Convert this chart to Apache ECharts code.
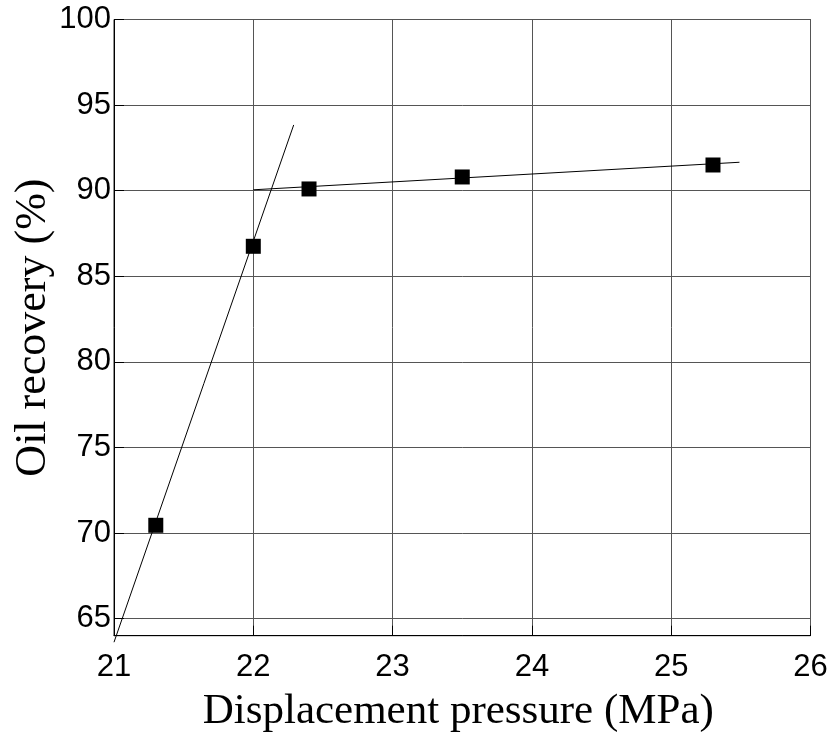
<!DOCTYPE html>
<html>
<head>
<meta charset="utf-8">
<script src="https://cdn.jsdelivr.net/npm/echarts@6/dist/echarts.min.js"></script>
<style>
    html, body { margin: 0; padding: 0; background: #fff; }
    #chart { width: 834px; height: 733px; }
</style>
</head>
<body>
<div id="chart"></div>
<script>
    // measured points
    var pressure = [21.3, 22.0, 22.4, 23.5, 25.3];
    var recovery = [70.45, 86.75, 90.1, 90.8, 91.5];

    // the two hand-drawn trend lines (end points)
    var steepX = [21.0, 22.29];
    var steepY = [63.62, 93.84];
    var flatX = [22.0, 25.49];
    var flatY = [90.05, 91.66];

    var yTicks = [65, 70, 75, 80, 85, 90, 95, 100];

    function pairs(xs, ys) {
        return xs.map(function (x, i) { return [x, ys[i]]; });
    }

    var chart = echarts.init(document.getElementById('chart'));
    var option = {
        animation: false,
        grid: {
            left: 114,
            right: 23.5,
            top: 19.5,
            bottom: 97.3,
            outerBoundsMode: 'none',
            show: true,
            borderColor: '#222',
            borderWidth: 1
        },
        xAxis: {
            type: 'value',
            min: 21,
            max: 26,
            interval: 1,
            name: 'Displacement pressure (MPa)',
            nameLocation: 'middle',
            nameGap: 55,
            nameMoveOverlap: false,
            nameTextStyle: {
                fontFamily: 'Liberation Serif',
                fontSize: 43,
                color: '#000',
                padding: [0, 8, 0, 0]
            },
            axisLine: { lineStyle: { color: '#000', width: 1 } },
            axisTick: { inside: true, length: 10, lineStyle: { color: '#000' } },
            axisLabel: {
                margin: 16,
                fontFamily: 'Liberation Sans',
                fontSize: 31,
                color: '#000'
            },
            splitLine: { show: true, lineStyle: { color: '#555', width: 1 } }
        },
        yAxis: {
            type: 'value',
            min: 64,
            max: 100,
            name: 'Oil recovery (%)',
            nameLocation: 'middle',
            nameGap: 59,
            nameMoveOverlap: false,
            nameTextStyle: {
                fontFamily: 'Liberation Serif',
                fontSize: 44,
                color: '#000'
            },
            axisLine: { show: true, lineStyle: { color: '#000', width: 1 } },
            axisTick: { show: true, inside: true, length: 10, customValues: yTicks, lineStyle: { color: '#000' } },
            axisLabel: {
                margin: 3,
                customValues: yTicks,
                fontFamily: 'Liberation Sans',
                fontSize: 31,
                color: '#000'
            },
            splitLine: { show: true, lineStyle: { color: '#555', width: 1 } }
        },
        series: [
            {
                type: 'line',
                data: pairs(steepX, steepY),
                showSymbol: false,
                clip: false,
                lineStyle: { color: '#000', width: 1 }
            },
            {
                type: 'line',
                data: pairs(flatX, flatY),
                showSymbol: false,
                lineStyle: { color: '#000', width: 1 }
            },
            {
                type: 'scatter',
                data: pairs(pressure, recovery),
                symbol: 'rect',
                symbolSize: 15,
                itemStyle: { color: '#000', opacity: 1 }
            }
        ]
    };
    chart.setOption(option);
</script>
</body>
</html>
